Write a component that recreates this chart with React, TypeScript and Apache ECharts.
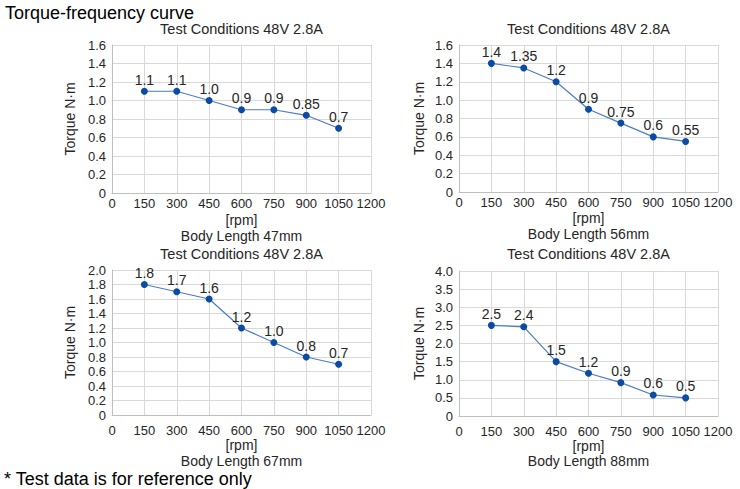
import React, { useEffect, useRef } from "react";
import * as echarts from "echarts";

const speeds = [150, 300, 450, 600, 750, 900, 1050];
const torque47 = [1.1, 1.1, 1.0, 0.9, 0.9, 0.84, 0.7];
const labels47 = ["1.1", "1.1", "1.0", "0.9", "0.9", "0.85", "0.7"];
const torque56 = [1.4, 1.35, 1.2, 0.9, 0.75, 0.6, 0.55];
const labels56 = ["1.4", "1.35", "1.2", "0.9", "0.75", "0.6", "0.55"];
const torque67 = [1.8, 1.7, 1.6, 1.2, 1.0, 0.8, 0.7];
const labels67 = ["1.8", "1.7", "1.6", "1.2", "1.0", "0.8", "0.7"];
const torque88 = [2.5, 2.46, 1.5, 1.18, 0.92, 0.58, 0.5];
const labels88 = ["2.5", "2.4", "1.5", "1.2", "0.9", "0.6", "0.5"];
const bodyLengths = ["Body Length 47mm", "Body Length 56mm", "Body Length 67mm", "Body Length 88mm"];
const yMax = [1.6, 1.6, 2.0, 4.0];
const yStep = [0.2, 0.2, 0.2, 0.5];

const mainTitle = "Torque-frequency curve";
const subTitle = "Test Conditions 48V 2.8A";
const footnote = "* Test data is for reference only";

const FONT = "'Liberation Sans', Arial, sans-serif";
const TXT = "#262626";

export default function App() {
  const ref = useRef<HTMLDivElement>(null);
  useEffect(() => {
    if (!ref.current) return;
    const chart = echarts.init(ref.current, null, { renderer: "svg" });
    const grids = [
      { left: 112, top: 45, width: 259, height: 148 },
      { left: 459, top: 45, width: 259, height: 147 },
      { left: 112, top: 270, width: 259, height: 145 },
      { left: 459, top: 271, width: 259, height: 145 },
    ];
    const series = [torque47, torque56, torque67, torque88];
    const lbls = [labels47, labels56, labels67, labels88];
    const xLabelMargin = [4, 4, 9, 9];
    const xNameGap = [20, 19, 22.5, 21.5];
    const bodyY = [235.5, 233.5, 461, 461];
    const yNameGap = [35, 33, 35, 33];

    const graphic: any[] = [
      { type: "text", left: 5, top: 4, style: { text: mainTitle, font: `18px ${FONT}`, fill: "#000" } },
      { type: "text", left: 4, top: 470, style: { text: footnote, font: `18px ${FONT}`, fill: "#000" } },
    ];
    grids.forEach((g, i) => {
      const cx = g.left + g.width / 2;
      graphic.push({
        type: "text",
        x: cx,
        y: i < 2 ? 29 : 253.5,
        style: { text: subTitle, font: `14.5px ${FONT}`, fill: TXT, align: "center", verticalAlign: "middle" },
      });
      graphic.push({
        type: "text",
        x: cx,
        y: bodyY[i],
        style: { text: bodyLengths[i], font: `14px ${FONT}`, fill: TXT, align: "center", verticalAlign: "middle" },
      });
    });

    const option: any = {
      animation: false,
      backgroundColor: "#fff",
      textStyle: { fontFamily: FONT },
      graphic,
      grid: grids,
      xAxis: grids.map((_, i) => ({
        type: "value",
        gridIndex: i,
        min: 0,
        max: 1200,
        interval: 150,
        name: "[rpm]",
        nameLocation: "middle",
        nameGap: xNameGap[i],
        nameTextStyle: { fontSize: 14, color: TXT, fontFamily: FONT },
        axisLine: { show: true, lineStyle: { color: "#bfbfbf" } },
        axisTick: { show: false },
        axisLabel: {
          fontSize: 13,
          color: TXT,
          margin: xLabelMargin[i],
          fontFamily: FONT,
          formatter: (v: number) => String(v),
        },
        splitLine: { show: true, lineStyle: { color: "#d9d9d9" } },
      })),
      yAxis: grids.map((_, i) => ({
        type: "value",
        gridIndex: i,
        min: 0,
        max: yMax[i],
        interval: yStep[i],
        name: "Torque N·m",
        nameLocation: "middle",
        nameGap: yNameGap[i],
        nameTextStyle: { fontSize: 14, color: TXT, fontFamily: FONT },
        axisLine: { show: true, lineStyle: { color: "#bfbfbf" } },
        axisTick: { show: false },
        axisLabel: {
          fontSize: 13,
          color: TXT,
          margin: 6,
          fontFamily: FONT,
          formatter: (v: number) => (v === 0 ? "0" : v.toFixed(1)),
        },
        splitLine: { show: true, lineStyle: { color: "#d9d9d9" } },
      })),
      series: series.map((vals, i) => ({
        type: "line",
        xAxisIndex: i,
        yAxisIndex: i,
        data: vals.map((v, j) => [speeds[j], v]),
        symbol: "circle",
        symbolSize: 7,
        lineStyle: { color: "#4a7ccc", width: 1.2 },
        itemStyle: { color: "#0b4ba3" },
        label: {
          show: true,
          position: "top",
          distance: 1,
          fontSize: 14,
          color: TXT,
          fontFamily: FONT,
          formatter: (p: any) => lbls[i][p.dataIndex],
        },
      })),
    };
    chart.setOption(option);
    return () => chart.dispose();
  }, []);
  return <div ref={ref} style={{ position: "fixed", left: 0, top: 0, width: 740, height: 489 }} />;
}
